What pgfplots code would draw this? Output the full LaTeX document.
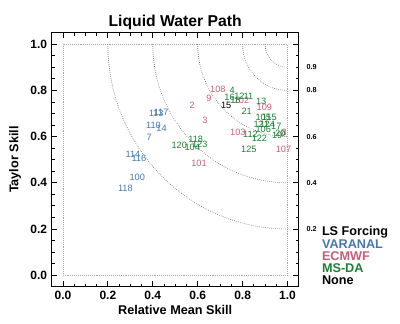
\documentclass[border=0pt]{standalone}
\usepackage{pgfplots}
\pgfplotsset{compat=1.18}
\usepackage{fontspec}
\setmainfont{Liberation Sans}
\definecolor{cvar}{RGB}{70,120,170}
\definecolor{cecm}{RGB}{195,95,120}
\definecolor{cmsd}{RGB}{30,125,55}
\pgfplotsset{
  lab/.style={only marks, mark=*, mark size=0pt, mark options={draw=none,fill=none},
    nodes near coords, point meta=explicit symbolic,
    every node near coord/.append style={anchor=center, inner sep=0pt, text=#1,
      font=\fontsize{6.9}{7}\selectfont}},
}
\tikzset{cl/.style={anchor=west, inner sep=0pt, xshift=5.8pt, font=\bfseries\fontsize{5.4}{6}\selectfont},
  arcl/.style={black!55, densely dotted, line width=0.5pt}}
\begin{document}
\begin{tikzpicture}
\useasboundingbox (-38.8pt,-28pt) rectangle (261.2pt,215pt);
\begin{axis}[
  scale only axis, width=185.25pt, height=190.5pt,
  xmin=-0.05, xmax=1.05, ymin=-0.05, ymax=1.05,
  axis line style={line width=0.9pt},
  xtick={0,0.2,0.4,0.6,0.8,1}, xticklabels={0.0,0.2,0.4,0.6,0.8,1.0},
  ytick={0,0.2,0.4,0.6,0.8,1}, yticklabels={0.0,0.2,0.4,0.6,0.8,1.0},
  minor tick num=3,
  tick pos=both,
  tick style={black, line width=0.6pt},
  major tick length=4pt, minor tick length=2.2pt,
  ticklabel style={font=\bfseries\fontsize{9}{10}\selectfont},
  clip=false,
]
% reference box and skill arcs
\draw[black!35, densely dotted, line width=0.45pt] (axis cs:0,0) rectangle (axis cs:1,1);
\draw[arcl] (axis cs:0.9,1) arc[start angle=180,end angle=270,x radius=16.841pt,y radius=17.318pt];
\draw[arcl] (axis cs:0.8,1) arc[start angle=180,end angle=270,x radius=33.682pt,y radius=34.636pt];
\draw[arcl] (axis cs:0.6,1) arc[start angle=180,end angle=270,x radius=67.364pt,y radius=69.273pt];
\draw[arcl] (axis cs:0.4,1) arc[start angle=180,end angle=270,x radius=101.045pt,y radius=103.909pt];
\draw[arcl] (axis cs:0.2,1) arc[start angle=180,end angle=270,x radius=134.727pt,y radius=138.545pt];
\node[cl] at (axis cs:1.05,0.9) {0.9};
\node[cl] at (axis cs:1.05,0.8) {0.8};
\node[cl] at (axis cs:1.05,0.6) {0.6};
\node[cl] at (axis cs:1.05,0.4) {0.4};
\node[cl] at (axis cs:1.05,0.2) {0.2};
% VARANAL
\addplot[lab=cvar] table[x=x,y=y,meta=l]{
x y l
0.415 0.700 113
0.437 0.704 117
0.403 0.650 110
0.439 0.634 14
0.384 0.598 7
0.312 0.521 114
0.338 0.506 116
0.331 0.424 100
0.278 0.374 118
};
% ECMWF
\addplot[lab=cecm] table[x=x,y=y,meta=l]{
x y l
0.690 0.805 108
0.650 0.764 9
0.576 0.736 2
0.632 0.671 3
0.606 0.482 101
0.779 0.617 103
0.897 0.728 109
0.982 0.543 107
0.795 0.757 102
0.985 0.617 8
};
% MS-DA
\addplot[lab=cmsd] table[x=x,y=y,meta=l]{
x y l
0.754 0.800 4
0.742 0.771 16
0.786 0.774 12
0.826 0.776 11
0.768 0.757 18
0.818 0.709 21
0.883 0.754 13
0.828 0.543 125
0.875 0.591 122
0.835 0.612 112
0.892 0.630 106
0.892 0.683 105
0.919 0.683 115
0.883 0.652 121
0.910 0.652 124
0.950 0.643 17
0.954 0.606 19
0.968 0.613 20
0.591 0.589 118
0.518 0.562 120
0.576 0.553 104
0.609 0.568 123
};
% None
\addplot[lab=black] table[x=x,y=y,meta=l]{
x y l
0.727 0.736 15
};
\end{axis}
\node[font=\bfseries\fontsize{11.8}{13}\selectfont] at (92.6pt,198.5pt) {Liquid Water Path};
\node[font=\bfseries\fontsize{9.5}{11}\selectfont] at (92.6pt,-17.5pt) {Relative Mean Skill};
\node[font=\bfseries\fontsize{9.5}{11}\selectfont, rotate=90] at (-27.5pt,95.25pt) {Taylor Skill};
\begin{scope}[every node/.style={anchor=base west, inner sep=0pt, font=\bfseries\fontsize{9.5}{11}\selectfont}]
\node at (202.5pt,38.1pt) {LS Forcing};
\node[text=cvar] at (202.5pt,28.9pt) {VARANAL};
\node[text=cecm] at (202.5pt,19.7pt) {ECMWF};
\node[text=cmsd] at (202.5pt,10.5pt) {MS-DA};
\node at (202.5pt,1.3pt) {None};
\end{scope}
\end{tikzpicture}
\end{document}
